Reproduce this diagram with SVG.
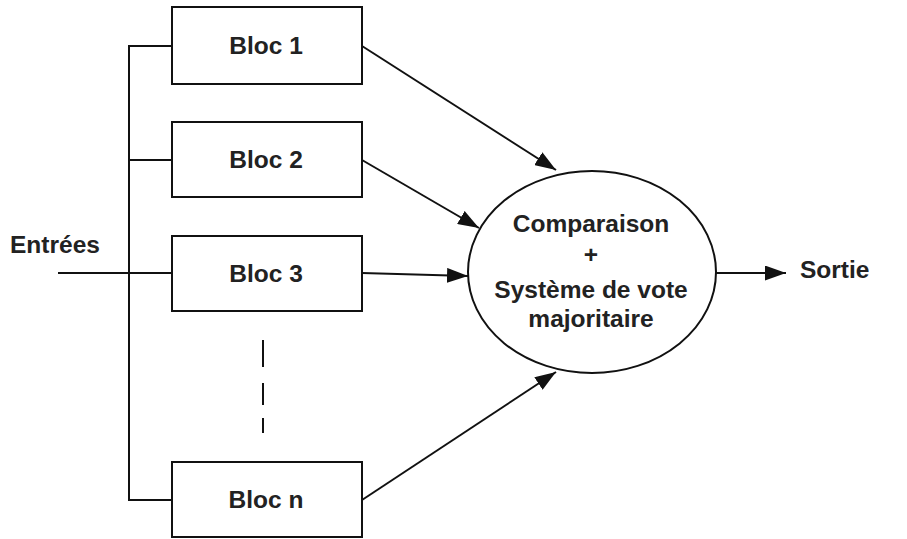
<svg xmlns="http://www.w3.org/2000/svg" width="907" height="539" viewBox="0 0 907 539">
<style>
.b{fill:#fff;stroke:#111;stroke-width:2}
.l{fill:none;stroke:#111;stroke-width:2}
.t{font-family:"Liberation Sans",Arial,sans-serif;font-weight:bold;font-size:24.5px;fill:#222}
</style>
<defs>
<marker id="a" markerWidth="21" markerHeight="15" refX="21" refY="7.5" orient="auto" markerUnits="userSpaceOnUse" viewBox="0 0 21 15">
<path d="M0,0 L21,7.5 L0,15 Z" fill="#111"/>
</marker>
</defs>
<g id="connectors">
<line class="l" x1="58" y1="273" x2="172" y2="273"/>
<polyline class="l" points="172,46 129,46 129,500 172,500"/>
<line class="l" x1="129" y1="160" x2="172" y2="160"/>
<line class="l" x1="362" y1="46" x2="556" y2="170" marker-end="url(#a)"/>
<line class="l" x1="362" y1="160" x2="479" y2="228" marker-end="url(#a)"/>
<line class="l" x1="362" y1="273" x2="468" y2="276" marker-end="url(#a)"/>
<line class="l" x1="362" y1="500" x2="556" y2="372" marker-end="url(#a)"/>
<line class="l" x1="716" y1="273" x2="786" y2="273" marker-end="url(#a)"/>
<line class="l" x1="263" y1="340" x2="263" y2="367"/>
<line class="l" x1="263" y1="383" x2="263" y2="405"/>
<line class="l" x1="263" y1="418" x2="263" y2="433"/>
</g>
<g id="entrees"><text class="t" x="10" y="253">Entrées</text></g>
<g id="bloc1"><rect class="b" x="172" y="7" width="190" height="77"/><text class="t" x="266" y="54" text-anchor="middle">Bloc 1</text></g>
<g id="bloc2"><rect class="b" x="172" y="122" width="190" height="75"/><text class="t" x="266" y="168" text-anchor="middle">Bloc 2</text></g>
<g id="bloc3"><rect class="b" x="172" y="236" width="190" height="75"/><text class="t" x="266" y="282" text-anchor="middle">Bloc 3</text></g>
<g id="blocn"><rect class="b" x="172" y="462" width="190" height="75"/><text class="t" x="266" y="508" text-anchor="middle">Bloc n</text></g>
<g id="vote">
<ellipse class="b" cx="592" cy="272" rx="124" ry="101"/>
<text class="t" x="591" y="232" text-anchor="middle">Comparaison</text>
<text class="t" x="591" y="263" text-anchor="middle">+</text>
<text class="t" x="591" y="298" text-anchor="middle">Système de vote</text>
<text class="t" x="591" y="327" text-anchor="middle">majoritaire</text>
</g>
<g id="sortie"><text class="t" x="800" y="278">Sortie</text></g>
</svg>
